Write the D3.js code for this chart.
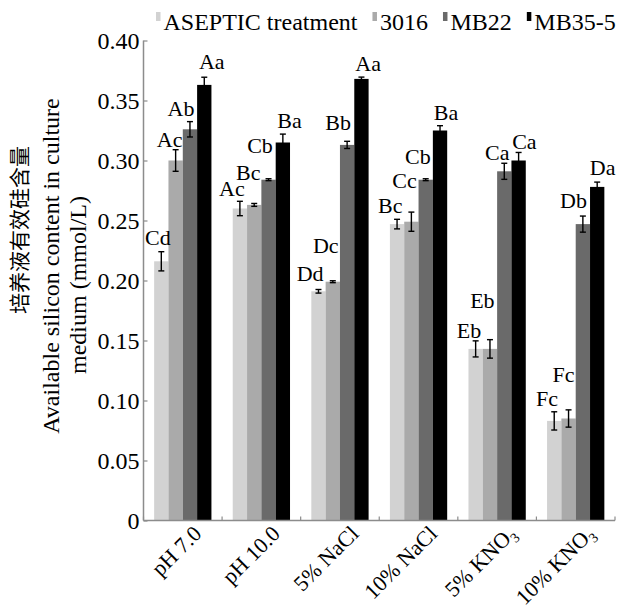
<!DOCTYPE html>
<html>
<head>
<meta charset="utf-8">
<script src="https://cdn.jsdelivr.net/npm/d3@7"></script>
<style>
  html, body { margin: 0; padding: 0; background: #fff; }
  svg text { font-family: "Liberation Serif", "Times New Roman", serif; fill: #000; }
</style>
</head>
<body>
<svg id="chart" width="618" height="611"></svg>
<script>
// ---------------- data ----------------
const categories = ["pH 7.0", "pH 10.0", "5% NaCl", "10% NaCl", "5% KNO3", "10% KNO3"];
const seriesNames = ["ASEPTIC treatment", "3016", "MB22", "MB35-5"];

const asepticValues = [0.216, 0.260, 0.191, 0.247, 0.143, 0.083];
const s3016Values   = [0.300, 0.263, 0.199, 0.249, 0.143, 0.085];
const mb22Values    = [0.326, 0.284, 0.313, 0.284, 0.291, 0.247];
const mb355Values   = [0.363, 0.315, 0.368, 0.325, 0.300, 0.278];

const asepticErr = [0.008, 0.006, 0.0015, 0.004, 0.0067, 0.0076];
const s3016Err   = [0.009, 0.0012, 0.0008, 0.008, 0.0077, 0.0072];
const mb22Err    = [0.0064, 0.0008, 0.003, 0.0008, 0.0067, 0.0067];
const mb355Err   = [0.0064, 0.007, 0.0015, 0.004, 0.0067, 0.004];

const asepticLetters = ["Cd", "Ac", "Dd", "Bc", "Eb", "Fc"];
const s3016Letters   = ["Ac", "Bc", "Dc", "Cc", "Eb", "Fc"];
const mb22Letters    = ["Ab", "Cb", "Bb", "Cb", "Ca", "Db"];
const mb355Letters   = ["Aa", "Ba", "Aa", "Ba", "Ca", "Da"];

const yTickValues = [0, 0.05, 0.10, 0.15, 0.20, 0.25, 0.30, 0.35, 0.40];
const yTickLabels = ["0", "0.05", "0.10", "0.15", "0.20", "0.25", "0.30", "0.35", "0.40"];

// ---------------- layout / style ----------------
const colors = ["#d2d2d2", "#aaaaaa", "#6a6a6a", "#000000"];
// label nudges (px): horizontal shift from bar centre, gap above error bar top
const labelDx = [
  [-3.5, -8, -8.4, -6.8, -6.6, -7.2],
  [-6, -6, -7, -6.8, -7.6, -5],
  [-9, -8.5, -9, -7.8, -7, -9.3],
  [7.5, 6.7, 6.7, 6, 5.8, 5.5]
];
const labelGap = [
  [7, 5, 9, 6, 2.5, 6],
  [3, 23, 28, 24, 32, 28],
  [6, 26, 11, 15, 3.5, 8],
  [8, 6, 6.5, 6, 3.5, 7]
];

const seriesValues = [asepticValues, s3016Values, mb22Values, mb355Values];
const seriesErr = [asepticErr, s3016Err, mb22Err, mb355Err];
const seriesLetters = [asepticLetters, s3016Letters, mb22Letters, mb355Letters];

const svg = d3.select("#chart");
const pLeft = 143.5, pRight = 615, pTop = 40.5, pBottom = 520.5;

const y = d3.scaleLinear().domain([0, 0.4]).range([pBottom, pTop]);
const x0 = d3.scaleBand().domain(categories).range([pLeft, pRight])
  .paddingInner(0.271).paddingOuter(0.1355);
const x1 = d3.scaleBand().domain(seriesNames).range([0, x0.bandwidth()]).padding(0);

// rows of data
const rows = [];
categories.forEach((c, ci) => {
  seriesNames.forEach((s, si) => {
    rows.push({
      cat: c, ci, ser: s, si,
      v: seriesValues[si][ci], e: seriesErr[si][ci], lab: seriesLetters[si][ci]
    });
  });
});

// bars
svg.append("g").selectAll("rect").data(rows).join("rect")
  .attr("x", d => x0(d.cat) + x1(d.ser))
  .attr("y", d => y(d.v))
  .attr("width", x1.bandwidth())
  .attr("height", d => y(0) - y(d.v))
  .attr("fill", d => colors[d.si]);

// error bars
const eg = svg.append("g").attr("stroke", "#000").attr("stroke-width", 1.4);
rows.forEach(d => {
  const cx = x0(d.cat) + x1(d.ser) + x1.bandwidth() / 2;
  const y1 = y(d.v + d.e), y2 = y(d.v - d.e);
  eg.append("line").attr("x1", cx).attr("x2", cx).attr("y1", y1).attr("y2", y2);
  eg.append("line").attr("x1", cx - 3).attr("x2", cx + 3).attr("y1", y1).attr("y2", y1);
  eg.append("line").attr("x1", cx - 3).attr("x2", cx + 3).attr("y1", y2).attr("y2", y2);
});

// letters
svg.append("g").selectAll("text").data(rows).join("text")
  .attr("x", d => x0(d.cat) + x1(d.ser) + x1.bandwidth() / 2 + labelDx[d.si][d.ci])
  .attr("y", d => y(d.v + d.e) - labelGap[d.si][d.ci])
  .attr("text-anchor", "middle")
  .attr("font-size", 22)
  .text(d => d.lab);

// y axis
const axisColor = "#8c8c8c";
const yAxis = d3.axisRight(y).tickValues(yTickValues).tickSize(4).tickFormat("");
const yg = svg.append("g").attr("transform", `translate(${pLeft},0)`).call(yAxis);
yg.select(".domain").attr("stroke", axisColor).attr("stroke-width", 1.5).attr("d", `M0,${pTop}V${pBottom}`);
yg.selectAll(".tick line").attr("stroke", axisColor).attr("stroke-width", 1.2);

svg.append("g").selectAll("text").data(yTickValues).join("text")
  .attr("x", pLeft - 4)
  .attr("y", d => y(d))
  .attr("dy", "0.35em")
  .attr("text-anchor", "end")
  .attr("font-size", 24)
  .text((d, i) => yTickLabels[i]);

// x axis
const xg = svg.append("g");
xg.append("line").attr("x1", pLeft).attr("x2", pRight).attr("y1", pBottom).attr("y2", pBottom)
  .attr("stroke", axisColor).attr("stroke-width", 1.5);
const boundaries = categories.map(c => x0(c) - (x0.step() - x0.bandwidth()) / 2).concat([pRight]);
xg.selectAll(".xt").data(boundaries).join("line").attr("class", "xt")
  .attr("x1", d => d).attr("x2", d => d).attr("y1", pBottom).attr("y2", pBottom - 4)
  .attr("stroke", axisColor).attr("stroke-width", 1.2);

// x labels
categories.forEach(c => {
  const cx = x0(c) + x0.bandwidth() / 2 + 20;
  const t = svg.append("text")
    .attr("transform", `translate(${cx},535) rotate(-45)`)
    .attr("text-anchor", "end")
    .attr("font-size", 22);
  const m = c.match(/^(.*KNO)3$/);
  if (m) {
    t.append("tspan").text(m[1]);
    t.append("tspan").attr("font-size", 14).attr("dy", 5).text("3");
  } else {
    t.text(c);
  }
});

// y title
svg.append("text")
  .attr("transform", "translate(27,230) rotate(-90)")
  .attr("text-anchor", "middle")
  .attr("font-size", 21)
  .style("font-family", "'Noto Sans CJK SC', 'Liberation Serif', serif")
  .text("培养液有效硅含量");
svg.append("text")
  .attr("transform", "translate(59,266) rotate(-90)")
  .attr("text-anchor", "middle")
  .attr("font-size", 24)
  .text("Available silicon content in culture");
svg.append("text")
  .attr("transform", "translate(86,285) rotate(-90)")
  .attr("text-anchor", "middle")
  .attr("font-size", 24)
  .text("medium (mmol/L)");

// legend
const lg = svg.append("g");
let lx = 156;
seriesNames.forEach((s, i) => {
  lg.append("rect").attr("x", lx).attr("y", 12).attr("width", 4.5).attr("height", 9).attr("fill", colors[i]);
  const t = lg.append("text").attr("x", lx + 7.5).attr("y", 30).attr("font-size", 24).text(s);
  lx += 7.5 + t.node().getComputedTextLength() + 15;
});
</script>
</body>
</html>
